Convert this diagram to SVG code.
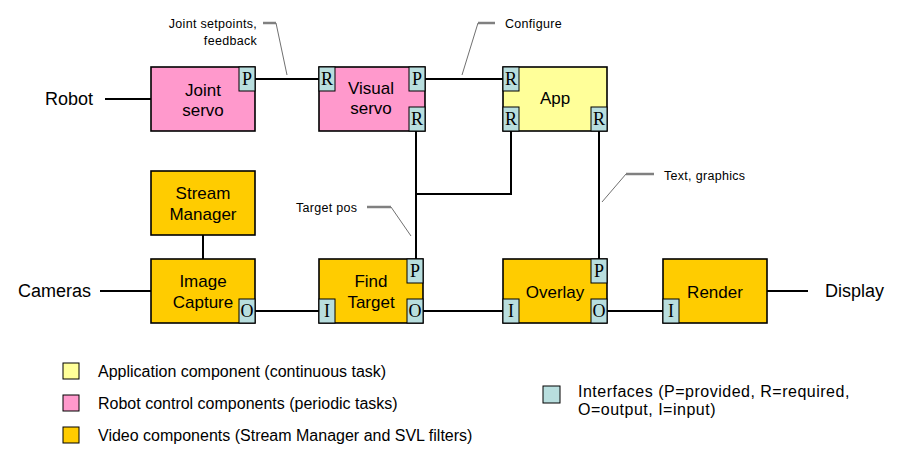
<svg xmlns="http://www.w3.org/2000/svg" width="920" height="463" viewBox="0 0 920 463">
<style>
.box{stroke:#000;stroke-width:1.6}
.pink{fill:#FF99CC}.yel{fill:#FFFF99}.gold{fill:#FFCC00}
.port{fill:#B8DEDE;stroke:#000;stroke-width:1}
.pl{font-family:"Liberation Serif",serif;font-size:18px;text-anchor:middle;fill:#000}
.lbl{font-family:"Liberation Sans",Arial,sans-serif;font-size:17px;text-anchor:middle;fill:#000}
.ext{font-family:"Liberation Sans",Arial,sans-serif;font-size:18px;fill:#000}
.note{font-family:"Liberation Sans",Arial,sans-serif;font-size:12.5px;letter-spacing:0.3px;fill:#000}
.leg{font-family:"Liberation Sans",Arial,sans-serif;font-size:16px;fill:#000}
.wire{stroke:#000;stroke-width:2;fill:none}
.co{stroke:#707070;stroke-width:1;fill:none}
.coh{stroke:#808080;stroke-width:2.5;fill:none}
</style>
<rect width="920" height="463" fill="#fff"/>
<g id="connectors">
<line class="wire" x1="105" y1="99" x2="151" y2="99"/>
<line class="wire" x1="255" y1="79" x2="319" y2="79"/>
<line class="wire" x1="425" y1="79" x2="503" y2="79"/>
<line class="wire" x1="416" y1="131" x2="416" y2="259"/>
<polyline class="wire" points="416,194 511,194 511,131"/>
<line class="wire" x1="599" y1="131" x2="599" y2="259"/>
<line class="wire" x1="203" y1="235" x2="203" y2="259"/>
<line class="wire" x1="100" y1="291" x2="151" y2="291"/>
<line class="wire" x1="255" y1="311" x2="319" y2="311"/>
<line class="wire" x1="423" y1="311" x2="503" y2="311"/>
<line class="wire" x1="607" y1="311" x2="663" y2="311"/>
<line class="wire" x1="767" y1="291" x2="808" y2="291"/>
</g>
<g id="callouts">
<line class="coh" x1="263" y1="23" x2="276" y2="23"/>
<line class="co" x1="276" y1="23" x2="287" y2="75"/>
<line class="coh" x1="478" y1="23" x2="495" y2="23"/>
<line class="co" x1="478" y1="23" x2="462" y2="75"/>
<line class="coh" x1="367" y1="207" x2="391" y2="207"/>
<line class="co" x1="391" y1="207" x2="411" y2="236"/>
<line class="coh" x1="626" y1="174" x2="654" y2="174"/>
<line class="co" x1="626" y1="174" x2="602" y2="202"/>
<text class="note" x="257" y="28" text-anchor="end">Joint setpoints,</text>
<text class="note" x="257" y="45" text-anchor="end">feedback</text>
<text class="note" x="505" y="28">Configure</text>
<text class="note" x="296" y="212">Target pos</text>
<text class="note" x="664" y="180">Text, graphics</text>
</g>
<g id="robot"><text class="ext" x="45" y="105">Robot</text></g>
<g id="cameras"><text class="ext" x="18" y="297">Cameras</text></g>
<g id="display"><text class="ext" x="825" y="297">Display</text></g>
<g id="joint-servo">
<rect class="box pink" x="151" y="67" width="104" height="64"/>
<text class="lbl" x="203" y="96">Joint</text>
<text class="lbl" x="203" y="116">servo</text>
<rect class="port" x="239" y="67" width="16" height="24"/><text class="pl" x="247" y="85">P</text>
</g>
<g id="visual-servo">
<rect class="box pink" x="319" y="67" width="106" height="64"/>
<text class="lbl" x="371" y="94">Visual</text>
<text class="lbl" x="371" y="114">servo</text>
<rect class="port" x="319" y="67" width="16" height="24"/><text class="pl" x="327" y="85">R</text>
<rect class="port" x="409" y="67" width="16" height="24"/><text class="pl" x="417" y="85">P</text>
<rect class="port" x="409" y="107" width="16" height="24"/><text class="pl" x="417" y="125">R</text>
</g>
<g id="app">
<rect class="box yel" x="503" y="67" width="104" height="64"/>
<text class="lbl" x="555" y="104">App</text>
<rect class="port" x="503" y="67" width="16" height="24"/><text class="pl" x="511" y="85">R</text>
<rect class="port" x="503" y="107" width="16" height="24"/><text class="pl" x="511" y="125">R</text>
<rect class="port" x="591" y="107" width="16" height="24"/><text class="pl" x="599" y="125">R</text>
</g>
<g id="stream-manager">
<rect class="box gold" x="151" y="171" width="104" height="64"/>
<text class="lbl" x="203" y="199">Stream</text>
<text class="lbl" x="203" y="220">Manager</text>
</g>
<g id="image-capture">
<rect class="box gold" x="151" y="259" width="104" height="64"/>
<text class="lbl" x="203" y="287">Image</text>
<text class="lbl" x="203" y="308">Capture</text>
<rect class="port" x="239" y="299" width="16" height="24"/><text class="pl" x="247" y="317">O</text>
</g>
<g id="find-target">
<rect class="box gold" x="319" y="259" width="104" height="64"/>
<text class="lbl" x="371" y="287">Find</text>
<text class="lbl" x="371" y="308">Target</text>
<rect class="port" x="407" y="259" width="16" height="24"/><text class="pl" x="415" y="277">P</text>
<rect class="port" x="319" y="299" width="16" height="24"/><text class="pl" x="327" y="317">I</text>
<rect class="port" x="407" y="299" width="16" height="24"/><text class="pl" x="415" y="317">O</text>
</g>
<g id="overlay">
<rect class="box gold" x="503" y="259" width="104" height="64"/>
<text class="lbl" x="555" y="298">Overlay</text>
<rect class="port" x="591" y="259" width="16" height="24"/><text class="pl" x="599" y="277">P</text>
<rect class="port" x="503" y="299" width="16" height="24"/><text class="pl" x="511" y="317">I</text>
<rect class="port" x="591" y="299" width="16" height="24"/><text class="pl" x="599" y="317">O</text>
</g>
<g id="render">
<rect class="box gold" x="663" y="259" width="104" height="64"/>
<text class="lbl" x="715" y="298">Render</text>
<rect class="port" x="663" y="299" width="16" height="24"/><text class="pl" x="671" y="317">I</text>
</g>
<g id="legend">
<rect x="63" y="363" width="16" height="16" fill="#FFFF99" stroke="#000" stroke-width="1"/>
<text class="leg" x="98" y="377">Application component (continuous task)</text>
<rect x="63" y="395" width="16" height="16" fill="#FF99CC" stroke="#000" stroke-width="1"/>
<text class="leg" x="98" y="409">Robot control components (periodic tasks)</text>
<rect x="63" y="427" width="16" height="16" fill="#FFCC00" stroke="#000" stroke-width="1"/>
<text class="leg" x="98" y="441">Video components (Stream Manager and SVL filters)</text>
<rect x="543" y="386" width="17" height="17" fill="#B8DEDE" stroke="#000" stroke-width="1"/>
<text class="leg" x="578" y="397" letter-spacing="0.5">Interfaces (P=provided, R=required,</text>
<text class="leg" x="578" y="415" letter-spacing="0.5">O=output, I=input)</text>
</g>
</svg>
